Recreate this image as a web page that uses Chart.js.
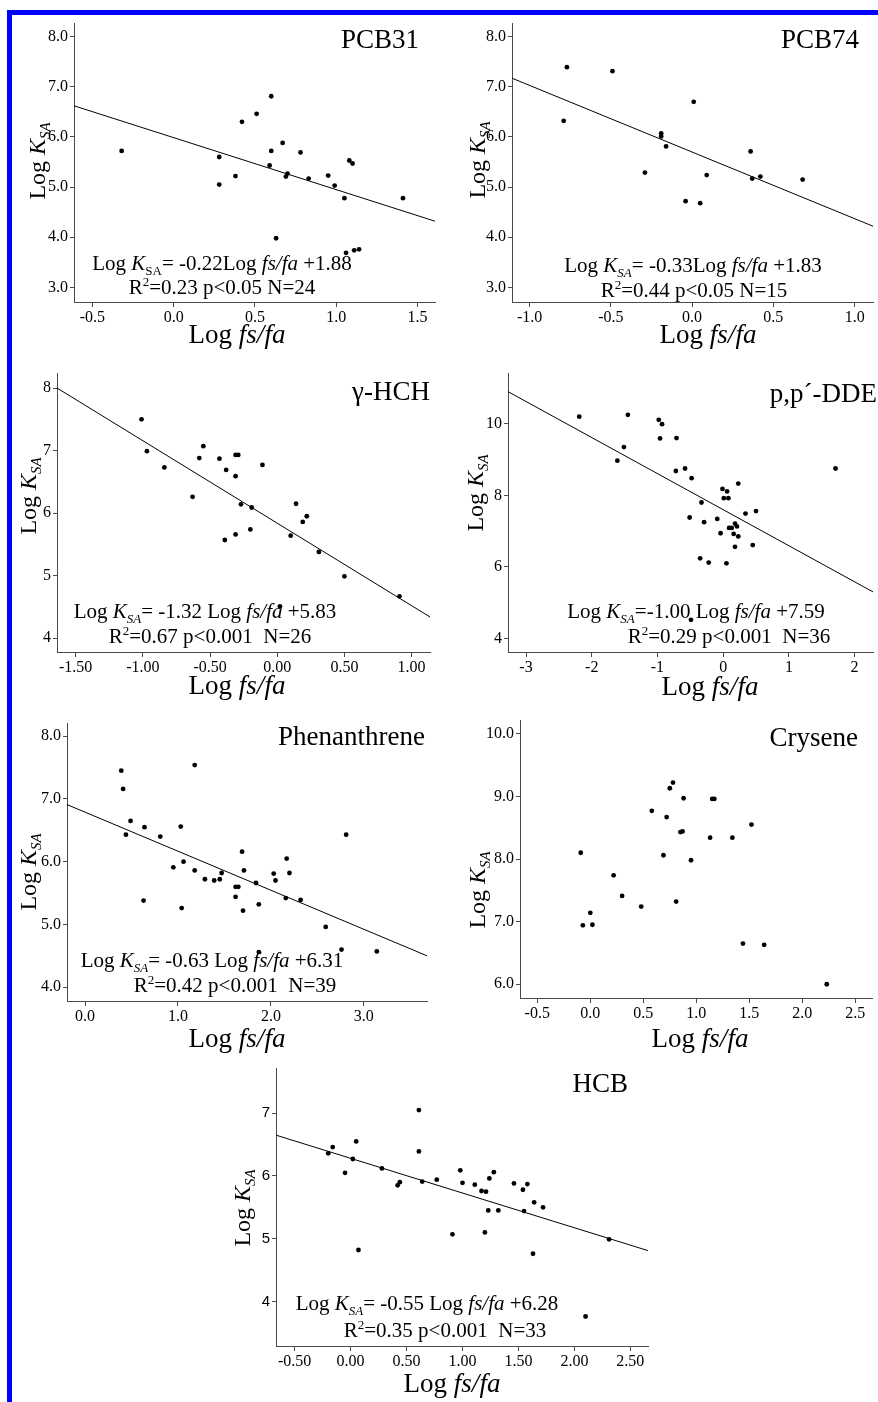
<!DOCTYPE html>
<html>
<head>
<meta charset="utf-8">
<script src="https://cdn.jsdelivr.net/npm/chart.js@4.4.0/dist/chart.umd.min.js"></script>
<style>
  html, body { margin: 0; padding: 0; background: #fff; }
  #page { position: relative; width: 878px; height: 1402px; overflow: hidden; background: #fff; }
  #page canvas { position: absolute; left: 0; top: 0; }
  .bar { position: absolute; background: #0000ff; }
</style>
</head>
<body>
<div id="page">
  <div class="bar" style="left:7px;top:10px;width:871px;height:5px"></div>
  <div class="bar" style="left:7px;top:10px;width:5px;height:1392px"></div>
</div>
<script>
// ---- data: Log fs/fa (x) vs Log KSA (y) per compound ----
const pcb31X = [-0.32, 0.28, 0.28, 0.38, 0.42, 0.51, 0.60, 0.60, 0.59, 0.63, 0.67, 0.70, 0.69, 0.78, 0.83, 0.95, 0.99, 1.05, 1.08, 1.10, 1.06, 1.11, 1.14, 1.41];
const pcb31Y = [5.72, 5.60, 5.05, 5.22, 6.30, 6.46, 6.81, 5.72, 5.43, 3.98, 5.88, 5.27, 5.21, 5.69, 5.17, 5.23, 5.03, 4.78, 5.53, 5.47, 3.69, 3.74, 3.76, 4.78];
const pcb31FitX = [-0.613, 1.607];
const pcb31FitY = [6.62, 4.32];

const pcb74X = [-0.77, -0.79, -0.49, 0.01, -0.19, -0.19, -0.16, -0.29, -0.04, 0.05, 0.09, 0.36, 0.37, 0.42, 0.68];
const pcb74Y = [7.39, 6.32, 7.31, 6.70, 6.07, 6.01, 5.81, 5.29, 4.72, 4.68, 5.24, 5.71, 5.17, 5.21, 5.15];
const pcb74FitX = [-1.108, 1.113];
const pcb74FitY = [7.17, 4.22];

const hchX = [-1.01, -0.97, -0.84, -0.55, -0.58, -0.63, -0.43, -0.38, -0.31, -0.29, -0.31, -0.11, -0.27, -0.19, -0.39, -0.31, -0.20, 0.10, 0.14, 0.19, 0.22, 0.31, 0.50, 0.91, 0.02];
const hchY = [7.50, 6.99, 6.73, 7.07, 6.88, 6.26, 6.87, 6.69, 6.93, 6.93, 6.59, 6.77, 6.14, 6.09, 5.57, 5.66, 5.74, 5.64, 6.15, 5.86, 5.95, 5.38, 4.99, 4.67, 4.51];
const hchFitX = [-1.639, 1.137];
const hchFitY = [8.00, 4.34];

const ddeX = [-2.19, -1.45, -1.51, -1.61, -0.98, -0.93, -0.96, -0.71, -0.72, -0.58, -0.48, -0.33, -0.51, -0.29, -0.35, -0.22, -0.09, -0.01, 0.06, 0.01, 0.08, 0.23, -0.04, 0.09, 0.13, 0.18, 0.21, 0.16, 0.23, 0.18, 0.05, 0.34, 0.50, 0.45, 1.71, -0.49];
const ddeY = [10.20, 10.25, 9.35, 8.97, 10.11, 9.99, 9.59, 9.60, 8.68, 8.75, 8.48, 7.80, 7.38, 7.25, 6.24, 6.12, 7.34, 8.18, 8.11, 7.92, 7.92, 8.33, 6.94, 7.09, 7.09, 7.21, 7.13, 6.92, 6.85, 6.56, 6.10, 7.49, 7.56, 6.61, 8.75, 4.52];
const ddeFitX = [-3.274, 2.28];
const ddeFitY = [10.90, 5.30];

const phenX = [0.39, 0.41, 0.49, 0.44, 0.64, 0.81, 1.18, 1.03, 0.95, 1.06, 1.18, 1.29, 1.39, 1.45, 1.47, 0.63, 1.04, 1.62, 1.65, 1.62, 1.69, 1.71, 1.70, 1.84, 1.87, 2.03, 2.05, 2.17, 2.20, 2.16, 2.32, 2.59, 2.81, 2.76, 3.14, 1.87];
const phenY = [7.45, 7.16, 6.65, 6.43, 6.55, 6.40, 7.54, 6.56, 5.91, 6.00, 5.86, 5.72, 5.70, 5.72, 5.82, 5.38, 5.26, 5.60, 5.60, 5.44, 6.16, 5.86, 5.22, 5.66, 5.32, 5.81, 5.70, 6.05, 5.82, 5.42, 5.39, 4.96, 6.43, 4.60, 4.57, 4.56];
const phenFitX = [-0.194, 3.68];
const phenFitY = [6.91, 4.50];

const cryX = [-0.09, -0.07, 0.00, 0.02, 0.22, 0.30, 0.48, 0.58, 0.69, 0.72, 0.75, 0.78, 0.81, 0.85, 0.87, 0.88, 0.95, 1.13, 1.15, 1.17, 1.34, 1.44, 1.52, 1.64, 2.23];
const cryY = [8.10, 6.94, 7.14, 6.95, 7.74, 7.41, 7.24, 8.77, 8.06, 8.67, 9.13, 9.22, 7.32, 8.43, 8.44, 8.97, 7.98, 8.34, 8.96, 8.96, 8.34, 6.65, 8.55, 6.63, 6.00];

const hcbX = [-0.20, -0.16, -0.05, 0.02, 0.05, 0.07, 0.28, 0.42, 0.44, 0.61, 0.61, 0.64, 0.77, 0.91, 0.98, 1.00, 1.11, 1.17, 1.21, 1.20, 1.24, 1.28, 1.23, 1.32, 1.46, 1.54, 1.58, 1.55, 1.64, 1.72, 1.63, 2.31, 2.10];
const hcbY = [6.36, 6.46, 6.05, 6.27, 6.55, 4.82, 6.12, 5.85, 5.90, 7.05, 6.39, 5.91, 5.94, 5.07, 6.09, 5.89, 5.86, 5.76, 5.75, 5.10, 5.96, 6.06, 5.45, 5.45, 5.88, 5.78, 5.87, 5.44, 5.58, 5.50, 4.76, 4.99, 3.76];
const hcbFitX = [-0.667, 2.658];
const hcbFitY = [6.65, 4.81];

// tick values
const ticksX = {
  pcb31: [-0.5, 0, 0.5, 1, 1.5],
  pcb74: [-1, -0.5, 0, 0.5, 1],
  hch: [-1.5, -1, -0.5, 0, 0.5, 1],
  dde: [-3, -2, -1, 0, 1, 2],
  phen: [0, 1, 2, 3],
  cry: [-0.5, 0, 0.5, 1, 1.5, 2, 2.5],
  hcb: [-0.5, 0, 0.5, 1, 1.5, 2, 2.5]
};
const ticksY = {
  pcb31: [3, 4, 5, 6, 7, 8],
  pcb74: [3, 4, 5, 6, 7, 8],
  hch: [4, 5, 6, 7, 8],
  dde: [4, 6, 8, 10],
  phen: [4, 5, 6, 7, 8],
  cry: [6, 7, 8, 9, 10],
  hcb: [4, 5, 6, 7]
};

const SERIF = '"Liberation Serif", "Times New Roman", serif';
const SANS = '"Liberation Sans", Arial, sans-serif';

// rich text: [text, style]  style: i=italic, b=subscript, p=superscript
function segFont(st, size) {
  const small = st.includes('b') || st.includes('p');
  const s = small ? size * 0.62 : size;
  return (st.includes('i') ? 'italic ' : '') + s.toFixed(1) + 'px ' + SERIF;
}
function segShift(st, size) {
  if (st.includes('b')) return size * 0.22;
  if (st.includes('p')) return -size * 0.36;
  return 0;
}
function drawRich(ctx, segs, x, y, size, align) {
  let w = 0;
  segs.forEach(([t, st]) => { ctx.font = segFont(st, size); w += ctx.measureText(t).width; });
  let cx = align === 'center' ? x - w / 2 : (align === 'right' ? x - w : x);
  ctx.textAlign = 'left';
  ctx.textBaseline = 'alphabetic';
  segs.forEach(([t, st]) => {
    ctx.font = segFont(st, size);
    ctx.fillText(t, cx, y + segShift(st, size));
    cx += ctx.measureText(t).width;
  });
}

const yTitle = [['Log ', ''], ['K', 'i'], ['SA', 'bi']];
const xTitle = [['Log ', ''], ['fs/fa', 'i']];

const panels = [
  {
    xs: pcb31X, ys: pcb31Y, fx: pcb31FitX, fy: pcb31FitY, tx: ticksX.pcb31, ty: ticksY.pcb31, dx: 1, dy: 1,
    box: [74, 23, 435, 302], xr: [-0.613, 1.607], yr: [2.71, 8.27],
    name: 'PCB31', nameAt: [419, 48], yt: [45, 161], xt: [237, 343],
    eq: [['Log ', ''], ['K', 'i'], ['SA', 'b'], ['= -0.22Log ', ''], ['fs/fa', 'i'], [' +1.88', '']], eqAt: [222, 270],
    r2: [['R', ''], ['2', 'p'], ['=0.23 p<0.05 N=24', '']], r2At: [222, 294]
  },
  {
    xs: pcb74X, ys: pcb74Y, fx: pcb74FitX, fy: pcb74FitY, tx: ticksX.pcb74, ty: ticksY.pcb74, dx: 1, dy: 1,
    box: [512, 23, 873, 302], xr: [-1.108, 1.113], yr: [2.71, 8.27],
    name: 'PCB74', nameAt: [859, 48], yt: [485, 160], xt: [708, 343],
    eq: [['Log ', ''], ['K', 'i'], ['SA', 'bi'], ['= -0.33Log ', ''], ['fs/fa', 'i'], [' +1.83', '']], eqAt: [693, 272],
    r2: [['R', ''], ['2', 'p'], ['=0.44 p<0.05 N=15', '']], r2At: [694, 297]
  },
  {
    xs: hchX, ys: hchY, fx: hchFitX, fy: hchFitY, tx: ticksX.hch, ty: ticksY.hch, dx: 2, dy: 0,
    box: [57, 373, 430, 652], xr: [-1.639, 1.137], yr: [3.78, 8.24],
    name: 'γ-HCH', nameAt: [430, 400], yt: [36, 496], xt: [237, 694],
    eq: [['Log ', ''], ['K', 'i'], ['SA', 'bi'], ['= -1.32 Log ', ''], ['fs/fa', 'i'], [' +5.83', '']], eqAt: [205, 618],
    r2: [['R', ''], ['2', 'p'], ['=0.67 p<0.001  N=26', '']], r2At: [210, 643]
  },
  {
    xs: ddeX, ys: ddeY, fx: ddeFitX, fy: ddeFitY, tx: ticksX.dde, ty: ticksY.dde, dx: 0, dy: 0,
    box: [508, 373, 873, 652], xr: [-3.274, 2.28], yr: [3.62, 11.42],
    name: 'p,p´-DDE', nameAt: [877, 402], yt: [483, 493], xt: [710, 695],
    eq: [['Log ', ''], ['K', 'i'], ['SA', 'bi'], ['=-1.00 Log ', ''], ['fs/fa', 'i'], [' +7.59', '']], eqAt: [696, 618],
    r2: [['R', ''], ['2', 'p'], ['=0.29 p<0.001  N=36', '']], r2At: [729, 643]
  },
  {
    xs: phenX, ys: phenY, fx: phenFitX, fy: phenFitY, tx: ticksX.phen, ty: ticksY.phen, dx: 1, dy: 1,
    box: [67, 723, 427, 1001], xr: [-0.194, 3.68], yr: [3.78, 8.21],
    name: 'Phenanthrene', nameAt: [425, 745], yt: [36, 872], xt: [237, 1047],
    eq: [['Log ', ''], ['K', 'i'], ['SA', 'bi'], ['= -0.63 Log ', ''], ['fs/fa', 'i'], [' +6.31', '']], eqAt: [212, 967],
    r2: [['R', ''], ['2', 'p'], ['=0.42 p<0.001  N=39', '']], r2At: [235, 992]
  },
  {
    xs: cryX, ys: cryY, fx: null, fy: null, tx: ticksX.cry, ty: ticksY.cry, dx: 1, dy: 1,
    box: [520, 720, 872, 998], xr: [-0.663, 2.657], yr: [5.78, 10.22],
    name: 'Crysene', nameAt: [858, 746], yt: [485, 890], xt: [700, 1047],
    eq: null, r2: null
  },
  {
    xs: hcbX, ys: hcbY, fx: hcbFitX, fy: hcbFitY, tx: ticksX.hcb, ty: ticksY.hcb, dx: 2, dy: 0, sansY: true,
    box: [276, 1068, 648, 1346], xr: [-0.667, 2.658], yr: [3.29, 7.72],
    name: 'HCB', nameAt: [628, 1092], yt: [250, 1208], xt: [452, 1392],
    eq: [['Log ', ''], ['K', 'i'], ['SA', 'bi'], ['= -0.55 Log ', ''], ['fs/fa', 'i'], [' +6.28', '']], eqAt: [427, 1310],
    r2: [['R', ''], ['2', 'p'], ['=0.35 p<0.001  N=33', '']], r2At: [445, 1337]
  }
];

const W = 878, H = 1402, YW = 40, XH = 30;
const axisColor = '#4a4a4a';

function textLayer(p) {
  return {
    id: 'panelText',
    afterDraw(chart) {
      const c = chart.ctx;
      c.save();
      c.fillStyle = '#000';
      // compound name
      c.font = '27px ' + SERIF;
      c.textAlign = 'right';
      c.textBaseline = 'alphabetic';
      c.fillText(p.name, p.nameAt[0], p.nameAt[1]);
      // axis titles
      drawRich(c, xTitle, p.xt[0], p.xt[1], 27, 'center');
      c.save();
      c.translate(p.yt[0], p.yt[1]);
      c.rotate(-Math.PI / 2);
      drawRich(c, yTitle, 0, 0, 24, 'center');
      c.restore();
      // regression equation
      if (p.eq) {
        drawRich(c, p.eq, p.eqAt[0], p.eqAt[1], 21, 'center');
        drawRich(c, p.r2, p.r2At[0], p.r2At[1], 21, 'center');
      }
      c.restore();
    }
  };
}

const page = document.getElementById('page');
panels.forEach(p => {
  const cv = document.createElement('canvas');
  cv.width = W; cv.height = H;
  cv.style.width = W + 'px'; cv.style.height = H + 'px';
  page.appendChild(cv);

  const [L, T, R, B] = p.box;
  const datasets = [{
    data: p.xs.map((x, i) => ({ x, y: p.ys[i] })),
    pointRadius: 2.4,
    pointBorderWidth: 0,
    pointBackgroundColor: '#000',
    showLine: false
  }];
  if (p.fx) {
    datasets.push({
      data: p.fx.map((x, i) => ({ x, y: p.fy[i] })),
      showLine: true,
      borderColor: '#000',
      borderWidth: 1,
      pointRadius: 0
    });
  }
  const fixPad = s => { s.paddingLeft = 0; s.paddingRight = 0; s.paddingTop = 0; s.paddingBottom = 0; };

  new Chart(cv, {
    type: 'scatter',
    data: { datasets },
    options: {
      responsive: false,
      animation: false,
      events: [],
      layout: { padding: { left: L - YW, top: T, right: W - R, bottom: H - B - XH } },
      plugins: { legend: { display: false }, tooltip: { enabled: false } },
      scales: {
        x: {
          type: 'linear', min: p.xr[0], max: p.xr[1],
          afterBuildTicks: s => { s.ticks = p.tx.map(v => ({ value: v })); },
          afterFit: s => { s.height = XH; fixPad(s); },
          ticks: {
            autoSkip: false, maxRotation: 0, padding: 1, color: '#000',
            font: { family: SERIF, size: 16 },
            callback: v => Number(v).toFixed(p.dx)
          },
          grid: { drawOnChartArea: false, drawTicks: true, tickLength: 5, color: axisColor },
          border: { display: true, color: axisColor, width: 1 }
        },
        y: {
          type: 'linear', min: p.yr[0], max: p.yr[1],
          afterBuildTicks: s => { s.ticks = p.ty.map(v => ({ value: v })); },
          afterFit: s => { s.width = YW; fixPad(s); },
          ticks: {
            autoSkip: false, padding: 2, color: '#000',
            font: { family: p.sansY ? SANS : SERIF, size: p.sansY ? 15 : 16 },
            callback: v => Number(v).toFixed(p.dy)
          },
          grid: { drawOnChartArea: false, drawTicks: true, tickLength: 4, color: axisColor },
          border: { display: true, color: axisColor, width: 1 }
        }
      }
    },
    plugins: [textLayer(p)]
  });
});
</script>
</body>
</html>
